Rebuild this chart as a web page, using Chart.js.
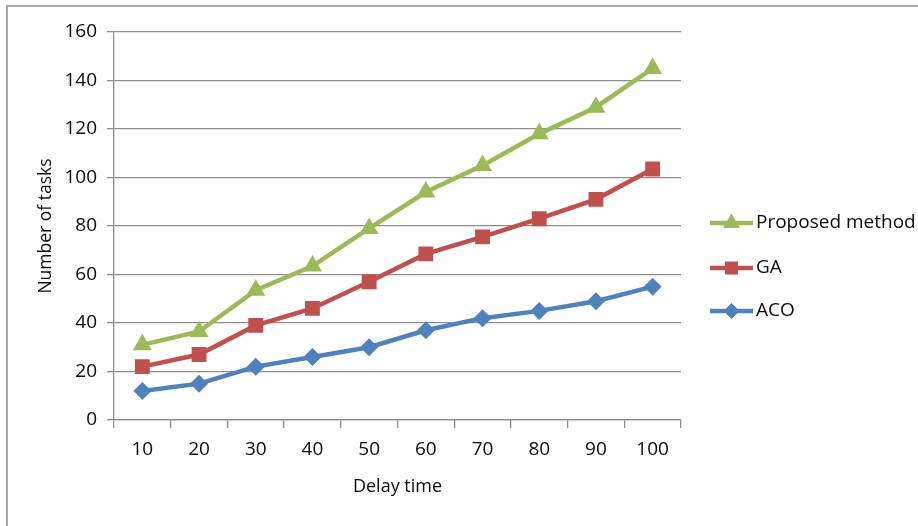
<!DOCTYPE html>
<html lang="en">
<head>
  <meta charset="utf-8" />
  <title>Number of tasks vs delay time</title>
  <style>
    html, body { margin: 0; padding: 0; background: #fff; }
    #wrap { position: relative; width: 918px; height: 526px; overflow: hidden; }
    /* frame of the original figure: only top and left edges show */
    #frame { position: absolute; left: 6px; top: 5px; width: 1000px; height: 1000px;
             border-top: 2px solid #a8a8a8; border-left: 2px solid #a8a8a8; pointer-events: none; }
    canvas { position: absolute; left: 0; top: 0; }
  </style>
</head>
<body>
  <div id="wrap">
    <canvas id="chart" width="918" height="526"></canvas>
    <div id="frame"></div>
  </div>

  <script src="https://cdn.jsdelivr.net/npm/chart.js@4/dist/chart.umd.min.js"></script>
  <script>
  // dati
  const delayTimes = ['10', '20', '30', '40', '50', '60', '70', '80', '90', '100'];
  const proposed   = [31, 36.5, 53.5, 63.5, 79, 94, 105, 118, 129, 145];
  const ga         = [22, 27, 39, 46, 57, 68.5, 75.5, 83, 91, 103.5];
  const aco        = [12, 15, 22, 26, 30, 37, 42, 45, 49, 55];
  const yTicks     = [0, 20, 40, 60, 80, 100, 120, 140, 160];

  const FONT = '"Open Sans", "DejaVu Sans", sans-serif';
  const GREEN = '#9bbb59', RED = '#c0504d', BLUE = '#4f81bd';
  const GRID = '#8e8e8e';
  const TEXT = '#0a0a0a';

  function series(label, data, color, style, radius) {
    return {
      label, data,
      borderColor: color, backgroundColor: color,
      borderWidth: 4.5,
      pointStyle: style, pointRadius: radius, pointHoverRadius: radius,
      pointBorderWidth: 0, pointBackgroundColor: color,
      tension: 0
    };
  }

  // legenda disegnata a mano: linea + marcatore come in Excel
  const excelLegend = {
    id: 'excelLegend',
    afterDraw(chart) {
      const ctx = chart.ctx;
      const x0 = chart.chartArea.right + 29;
      const rows = [223, 268, 311];
      ctx.save();
      chart.data.datasets.forEach((ds, i) => {
        const y = rows[i];
        ctx.strokeStyle = ds.borderColor;
        ctx.lineWidth = 4.5;
        ctx.beginPath();
        ctx.moveTo(x0, y);
        ctx.lineTo(x0 + 43, y);
        ctx.stroke();
        ctx.fillStyle = ds.backgroundColor;
        Chart.helpers.drawPoint(ctx, { pointStyle: ds.pointStyle, radius: ds.pointRadius * 0.85, rotation: 0, borderWidth: 0 }, x0 + 21.5, y);
        ctx.fill();
        ctx.fillStyle = TEXT;
        ctx.font = '19px ' + FONT;
        ctx.textBaseline = 'middle';
        ctx.fillText(ds.label, x0 + 46, y);
      });
      ctx.restore();
    }
  };

  new Chart(document.getElementById('chart'), {
    type: 'line',
    data: {
      labels: delayTimes,
      datasets: [
        series('Proposed method', proposed, GREEN, 'triangle', 11),
        series('GA', ga, RED, 'rect', 10.5),
        series('ACO', aco, BLUE, 'rectRot', 9)
      ]
    },
    options: {
      responsive: false,
      animation: false,
      events: [],
      layout: { padding: { top: 32, right: 237, left: 0, bottom: 0 } },
      plugins: { legend: { display: false }, tooltip: { enabled: false } },
      scales: {
        x: {
          offset: true,
          grid: { offset: true, drawOnChartArea: false, color: GRID, lineWidth: 1.3, tickLength: 8 },
          border: { color: GRID, width: 1.3 },
          ticks: { color: TEXT, font: { family: FONT, size: 19 }, padding: 10 },
          title: { display: true, text: 'Delay time', color: TEXT, font: { family: FONT, size: 18 }, padding: { top: 0, bottom: 28 } },
          afterFit(s) { s.height = 106; }
        },
        y: {
          min: 0, max: 160,
          afterBuildTicks(s) { s.ticks = yTicks.map(v => ({ value: v })); },
          grid: { color: GRID, lineWidth: 1.3, tickLength: 7 },
          border: { color: GRID, width: 1.3 },
          ticks: { color: TEXT, font: { family: FONT, size: 19 }, padding: 10 },
          title: { display: true, text: 'Number of tasks', color: TEXT, font: { family: FONT, size: 17.5 }, padding: { top: 36, bottom: 0 } },
          afterFit(s) { s.width = 114; }
        }
      }
    },
    plugins: [excelLegend]
  });
  </script>
</body>
</html>
